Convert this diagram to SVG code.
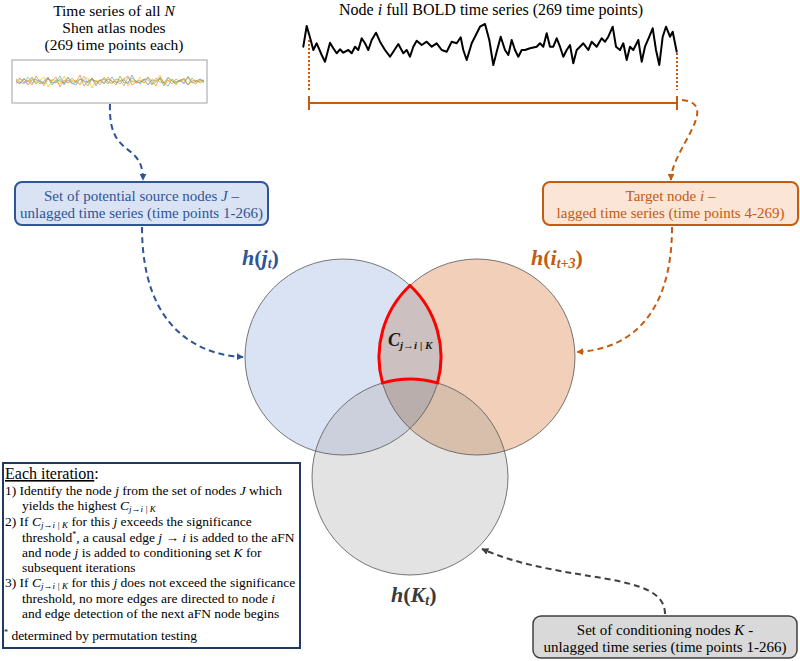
<svg xmlns="http://www.w3.org/2000/svg" width="800" height="661" viewBox="0 0 800 661">
<style>
text{font-family:"Liberation Serif",serif;}
.t{font-size:13.5px;fill:#000}
.i{font-style:italic}
.sub{font-size:9px;font-style:italic}
.lab{font-size:15px}
.ttl{fill:#000}
.dash{fill:none;stroke-width:2;stroke-dasharray:6 4}
.circ{fill:none;stroke:#555;stroke-width:0.8}
.math{font-weight:bold}
.ts{fill:none;stroke-width:0.8;opacity:0.85}
</style>
<defs>
<marker id="ab" viewBox="0 0 10 10" refX="9" refY="5" markerWidth="7" markerHeight="7" markerUnits="userSpaceOnUse" orient="auto"><path d="M0,0 L10,5 L0,10 z" fill="#2f5597"/></marker>
<marker id="ao" viewBox="0 0 10 10" refX="9" refY="5" markerWidth="7" markerHeight="7" markerUnits="userSpaceOnUse" orient="auto"><path d="M0,0 L10,5 L0,10 z" fill="#c55a11"/></marker>
<marker id="ag" viewBox="0 0 10 10" refX="9" refY="5" markerWidth="7" markerHeight="7" markerUnits="userSpaceOnUse" orient="auto"><path d="M0,0 L10,5 L0,10 z" fill="#404040"/></marker>
<clipPath id="k1"><circle cx="343" cy="357" r="98"/></clipPath>
<clipPath id="k2"><circle cx="477" cy="357" r="98"/></clipPath>
</defs>

<!-- Top-left: all node time series -->
<g id="node-all-series">
<text class="ttl" font-size="15.5" text-anchor="middle" x="114" y="16">Time series of all <tspan class="i">N</tspan></text>
<text class="ttl" font-size="15.5" text-anchor="middle" x="114" y="33">Shen atlas nodes</text>
<text class="ttl" font-size="15.5" text-anchor="middle" x="114" y="50">(269 time points each)</text>
<rect x="12" y="60" width="195" height="43" fill="#fff" stroke="#a0a0a0" stroke-width="1"/>
<polyline class="ts" stroke="#a5a5a5" points="16,79 20,82 24,84 28,77 32,83 36,81 40,80 44,86 48,78 52,82 56,83 60,79 64,85 68,78 72,81 76,82 80,84 84,76 88,83 92,80 96,81 100,85 104,78 108,82 112,83 116,79 120,80 124,86 128,77 132,82 136,81 140,84 144,79 148,80 152,85 156,78 160,82 164,83 168,77 172,81 176,84 180,80 184,83 188,76 192,82 196,84 200,79 204,81"/>
<polyline class="ts" stroke="#5b9bd5" points="16,82 20,83 24,78 28,85 32,80 36,79 40,84 44,81 48,77 52,83 56,82 60,76 64,84 68,80 72,83 76,85 80,79 84,81 88,82 92,78 96,86 100,80 104,79 108,84 112,77 116,83 120,81 124,80 128,84 132,75 136,83 140,82 144,79 148,85 152,80 156,81 160,78 164,83 168,86 172,79 176,82 180,80 184,84 188,77 192,83 196,81 200,79 204,82"/>
<polyline class="ts" stroke="#ffc000" points="16,84 20,79 24,81 28,85 32,78 36,83 40,80 44,77 48,87 52,79 56,82 60,84 64,76 68,83 72,81 76,80 80,85 84,79 88,78 92,88 96,80 100,83 104,77 108,82 112,84 116,79 120,81 124,78 128,86 132,80 136,83 140,77 144,82 148,84 152,79 156,81 160,75 164,84 168,82 172,79 176,85 180,80 184,81 188,78 192,83 196,82 200,80 204,83"/>
<polyline class="ts" stroke="#70ad47" points="16,81 20,84 24,79 28,82 32,77 36,84 40,81 44,83 48,78 52,85 56,80 60,81 64,83 68,77 72,84 76,82 80,79 84,81 88,86 92,78 96,82 100,80 104,84 108,79 112,81 116,85 120,76 124,83 128,82 132,78 136,81 140,83 144,80 148,77 152,84 156,82 160,79 164,86 168,78 172,81 176,83 180,80 184,79 188,85 192,78 196,82 200,81 204,80"/>
<polyline class="ts" stroke="#ed7d31" points="16,81 20,78 24,83 28,80 32,85 36,76 40,82 44,84 48,79 52,81 56,77 60,87 64,80 68,83 72,78 76,82 80,75 84,86 88,81 92,79 96,84 100,80 104,83 108,77 112,82 116,81 120,84 124,79 128,76 132,85 136,82 140,80 144,83 148,78 152,81 156,86 160,77 164,83 168,80 172,84 176,79 180,82 184,78 188,85 192,81 196,80 200,83 204,81"/>
</g>

<!-- Top-right: node i BOLD series -->
<g id="node-i-series">
<text class="ttl" font-size="16" text-anchor="middle" x="491" y="15">Node <tspan class="i">i</tspan> full BOLD time series (269 time points)</text>
<polyline fill="none" stroke="#000" stroke-width="2" stroke-linejoin="round" stroke-linecap="round" points="303.3,46.7 306.7,26 310.7,40 313.3,50 316.7,43.3 321.7,55 325,61.7 330,42.7 333.3,48.3 336.7,53.3 340,49.3 343.3,52.7 348.3,50 351.7,53.3 355,46.7 358.3,50 361.7,38.3 365,43.3 368.3,50 371.7,40 376,32.7 380,41.7 385,50 390,56.7 393.3,51.7 398.3,44 403.3,53.3 406.7,50 410,56.7 413.3,46.7 416.7,40.7 421.7,45 426.7,41.7 431.7,46.7 436.7,43.3 441.7,50 446.7,51.7 451.7,41.7 456.7,43.3 460.7,37.3 463.3,50 466.7,60 471.7,43.3 475,36.7 480,26.7 485,24 489.3,40 493.3,65 496.7,51.7 500.7,36.7 505,50 508.3,55 511.7,40 515,50 518.3,56.7 521.7,50 525,50 530,48.3 536.7,46.7 540,43.3 543.3,46.7 546.7,33.3 550,46.7 553.3,46.7 556.7,38.3 560,46.7 563.3,56.7 566.7,50 570,45 573.3,63.3 576.7,50 580,46.7 583.3,43.3 588.3,50 591.7,41.7 596.7,46.7 601.7,38.3 605,41.7 608.3,36.7 612.7,26.7 616,46.7 620,50 623.3,43.3 626.7,60 630,46.7 633.3,50 638.3,40 641.7,61.7 645,46.7 649.3,36.7 652.7,28.3 656,50 659.3,65 662.7,36.7 666,26.7 670,36.7 672.7,31.7 676.7,51.7"/>
<line x1="309" y1="40" x2="309" y2="90" stroke="#c55a11" stroke-width="2" stroke-dasharray="2 2"/>
<line x1="677" y1="53" x2="677" y2="90" stroke="#c55a11" stroke-width="2" stroke-dasharray="2 2"/>
<path d="M309,103 H677 M309,96 V110 M677,96 V110" stroke="#c55a11" stroke-width="2" fill="none"/>
</g>

<!-- Source nodes box -->
<g id="node-source">
<rect x="15" y="182" width="253" height="43" rx="7" fill="#dae3f3" stroke="#2f5597" stroke-width="2"/>
<text class="lab" fill="#2f5597" text-anchor="middle"><tspan x="141.5" y="200.5">Set of potential source nodes <tspan class="i">J</tspan> –</tspan><tspan x="141.5" y="217.5">unlagged time series (time points 1-266)</tspan></text>
</g>

<!-- Target node box -->
<g id="node-target">
<rect x="543" y="182" width="255" height="43" rx="7" fill="#fbe5d6" stroke="#c55a11" stroke-width="2"/>
<text class="lab" fill="#c55a11" text-anchor="middle"><tspan x="670.5" y="200.5">Target node <tspan class="i">i</tspan> –</tspan><tspan x="670.5" y="217.5">lagged time series (time points 4-269)</tspan></text>
</g>

<!-- Conditioning box -->
<g id="node-conditioning">
<rect x="533" y="616" width="264" height="42" rx="8" fill="#d9d9d9" stroke="#404040" stroke-width="1.5"/>
<text class="lab" fill="#000" text-anchor="middle"><tspan x="665" y="634.5">Set of conditioning nodes <tspan class="i">K</tspan> -</tspan><tspan x="665" y="651.5">unlagged time series (time points 1-266)</tspan></text>
</g>

<!-- Venn diagram -->
<g id="node-venn">
<circle cx="343" cy="357" r="98" fill="#dae3f3"/>
<circle cx="477" cy="357" r="98" fill="#f1cfb8"/>
<circle cx="410" cy="477" r="98" fill="#e3e3e3"/>
<circle cx="477" cy="357" r="98" fill="#cdc0c0" clip-path="url(#k1)"/>
<circle cx="410" cy="477" r="98" fill="#cbd0dc" clip-path="url(#k1)"/>
<circle cx="410" cy="477" r="98" fill="#d7bfac" clip-path="url(#k2)"/>
<g clip-path="url(#k1)"><circle cx="410" cy="477" r="98" fill="#b9aeab" clip-path="url(#k2)"/></g>
<circle class="circ" cx="343" cy="357" r="98"/>
<circle class="circ" cx="477" cy="357" r="98"/>
<circle class="circ" cx="410" cy="477" r="98"/>
<path d="M410,285.5 A98,98 0 0 1 437.5,382.9 A98,98 0 0 0 382.5,382.9 A98,98 0 0 1 410,285.5 Z" fill="none" stroke="#ff0000" stroke-width="3" stroke-linejoin="miter"/>
<text class="math" x="388" y="346" font-size="18" fill="#1a1a1a"><tspan font-style="italic">C</tspan><tspan font-size="11" font-style="italic" dy="3">j→i | K</tspan></text>
<text class="math" x="242" y="265" font-size="22" fill="#2f5597"><tspan font-style="italic">h</tspan>(<tspan font-style="italic">j</tspan><tspan font-size="14" font-style="italic" dy="3">t</tspan><tspan dy="-3">)</tspan></text>
<text class="math" x="531" y="265" font-size="22" fill="#c55a11"><tspan font-style="italic">h</tspan>(<tspan font-style="italic">i</tspan><tspan font-size="14" font-style="italic" dy="3">t+3</tspan><tspan dy="-3">)</tspan></text>
<text class="math" x="391" y="602" font-size="22" fill="#3a3a3a"><tspan font-style="italic">h</tspan>(<tspan font-style="italic">K</tspan><tspan font-size="14" font-style="italic" dy="3">t</tspan><tspan dy="-3">)</tspan></text>
</g>

<!-- Iteration text box -->
<g id="node-iteration">
<rect x="3" y="463" width="297" height="185" fill="#fff" stroke="#203864" stroke-width="2"/>
<text x="5" y="479" font-size="16"><tspan text-decoration="underline">Each iteration</tspan>:</text>
<text class="t" x="5" y="495">1) Identify the node <tspan class="i">j</tspan> from the set of nodes <tspan class="i">J</tspan> which</text>
<text class="t" x="22" y="510">yields the highest <tspan class="i">C</tspan><tspan class="sub" dy="2">j→i | K</tspan></text>
<text class="t" x="5" y="526">2) If <tspan class="i">C</tspan><tspan class="sub" dy="2">j→i | K</tspan><tspan dy="-2"> for this </tspan><tspan class="i">j</tspan> exceeds the significance</text>
<text class="t" x="22" y="542">threshold<tspan font-size="8" dy="-5">*</tspan><tspan dy="5">, a causal edge </tspan><tspan class="i">j</tspan> → <tspan class="i">i</tspan> is added to the aFN</text>
<text class="t" x="22" y="557">and node <tspan class="i">j</tspan> is added to conditioning set <tspan class="i">K</tspan> for</text>
<text class="t" x="22" y="572">subsequent iterations</text>
<text class="t" x="5" y="587">3) If <tspan class="i">C</tspan><tspan class="sub" dy="2">j→i | K</tspan><tspan dy="-2"> for this </tspan><tspan class="i">j</tspan> does not exceed the significance</text>
<text class="t" x="22" y="603">threshold, no more edges are directed to node <tspan class="i">i</tspan></text>
<text class="t" x="22" y="618">and edge detection of the next aFN node begins</text>
<text class="t" x="4" y="640"><tspan font-size="8" dy="-5">*</tspan><tspan dy="5"> determined by permutation testing</tspan></text>
</g>

<!-- Connectors -->
<g id="connectors">
<path class="dash" stroke="#2f5597" d="M110,104 C108,160 143,140 143,180" marker-end="url(#ab)"/>
<path class="dash" stroke="#2f5597" d="M142,227 C142,330 200,355 243,357" marker-end="url(#ab)"/>
<path class="dash" stroke="#c55a11" d="M682,100 C722,104 671,150 671,180" marker-end="url(#ao)"/>
<path class="dash" stroke="#c55a11" d="M672,227 C672,320 625,350 577,352" marker-end="url(#ao)"/>
<path class="dash" stroke="#404040" d="M665,614 C665,570 565,585 482,549" marker-end="url(#ag)"/>
</g>
</svg>
